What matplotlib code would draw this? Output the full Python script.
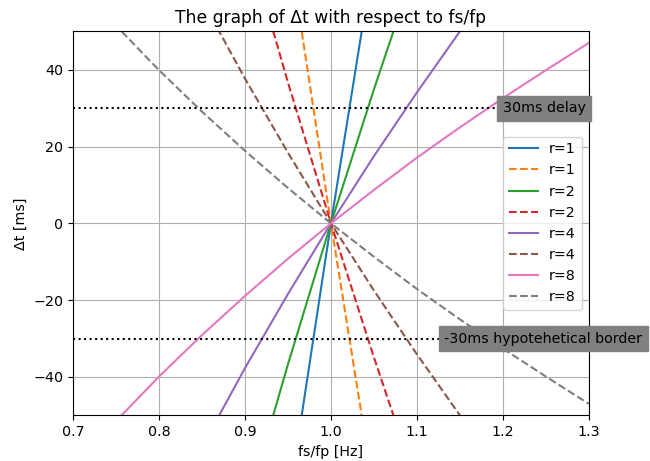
import matplotlib
matplotlib.use("Agg")
import matplotlib.pyplot as plt

# frequency ratio fs/fp
ratio = [0.70, 0.75, 0.80, 0.85, 0.90, 0.95, 1.00, 1.05, 1.10, 1.15, 1.20, 1.25, 1.30]

# delay in ms for each r (rising = solid, falling = dashed)
dt_r1_up = [-510.8, -412.0, -319.5, -232.7, -150.9, -73.5, 0, 69.9, 136.5, 200.1, 261.1, 319.5, 375.7]
dt_r1_down = [510.8, 412.0, 319.5, 232.7, 150.9, 73.5, 0, -69.9, -136.5, -200.1, -261.1, -319.5, -375.7]
dt_r2_up = [-255.4, -206.0, -159.8, -116.4, -75.5, -36.7, 0, 34.9, 68.2, 100.1, 130.5, 159.7, 187.9]
dt_r2_down = [255.4, 206.0, 159.8, 116.4, 75.5, 36.7, 0, -34.9, -68.2, -100.1, -130.5, -159.7, -187.9]
dt_r4_up = [-127.7, -103.0, -79.9, -58.2, -37.7, -18.4, 0, 17.5, 34.1, 50.0, 65.3, 79.9, 93.9]
dt_r4_down = [127.7, 103.0, 79.9, 58.2, 37.7, 18.4, 0, -17.5, -34.1, -50.0, -65.3, -79.9, -93.9]
dt_r8_up = [-63.9, -51.5, -39.9, -29.1, -18.9, -9.2, 0, 8.7, 17.1, 25.0, 32.6, 39.9, 47.0]
dt_r8_down = [63.9, 51.5, 39.9, 29.1, 18.9, 9.2, 0, -8.7, -17.1, -25.0, -32.6, -39.9, -47.0]

series = [
    ("r=1", dt_r1_up, dt_r1_down),
    ("r=2", dt_r2_up, dt_r2_down),
    ("r=4", dt_r4_up, dt_r4_down),
    ("r=8", dt_r8_up, dt_r8_down),
]

delay_limit = 30  # ms

plt.rcParams["font.size"] = 10.3

fig, ax = plt.subplots(figsize=(6.5, 4.61), dpi=100)
fig.subplots_adjust(left=0.1123, right=0.906, top=0.932, bottom=0.099)

for label, up, down in series:
    ax.plot(ratio, up, label=label)
    ax.plot(ratio, down, "--", label=label)

ax.axhline(delay_limit, color="black", linestyle=":")
ax.axhline(-delay_limit, color="black", linestyle=":")
ax.text(1.2, delay_limit, "30ms delay", va="center", bbox=dict(facecolor="gray", edgecolor="gray"))
ax.text(1.132, -delay_limit, "-30ms hypotehetical border", va="center",
        bbox=dict(facecolor="gray", edgecolor="gray"))

ax.set_xlim(0.7, 1.3)
ax.set_ylim(-50, 50)
ax.set_title("The graph of Δt with respect to fs/fp")
ax.set_xlabel("fs/fp [Hz]")
ax.set_ylabel("Δt [ms]")
ax.grid(True)
ax.legend(loc="center right")

plt.savefig("out.png", dpi=100)
